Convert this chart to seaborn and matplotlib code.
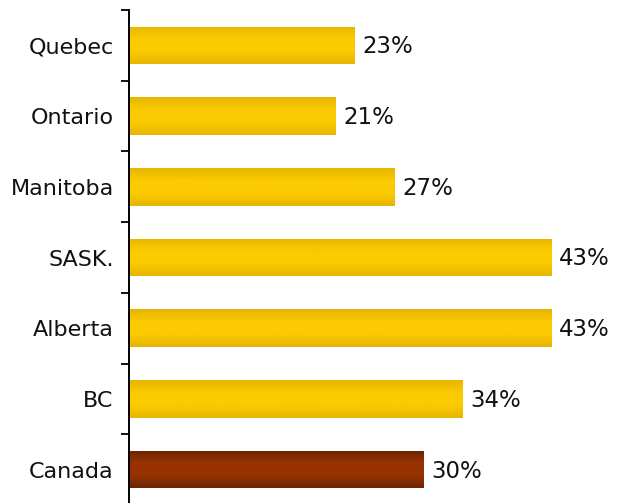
import numpy as np
import matplotlib
matplotlib.use("Agg")
import matplotlib.pyplot as plt
from matplotlib.colors import LinearSegmentedColormap
from matplotlib.ticker import FixedLocator
import pandas as pd
import seaborn as sns

# Share of respondents by province
regions = ["Quebec", "Ontario", "Manitoba", "SASK.", "Alberta", "BC", "Canada"]
shares = [23, 21, 27, 43, 43, 34, 30]

gold_edge, gold_mid = "#E6B600", "#FCCA00"
rust_edge, rust_mid = "#6C2500", "#973200"
bar_colors = [gold_mid] * 6 + [rust_mid]
bar_ramps = [(gold_edge, gold_mid)] * 6 + [(rust_edge, rust_mid)]

sns.set_style("white")
plt.rcParams["font.family"] = ["DejaVu Sans"]

df = pd.DataFrame({"region": regions, "share": shares})

fig = plt.figure(figsize=(6.23, 5.03), dpi=100)
ax = fig.add_axes([129 / 623, -0.004, (620 - 129) / 623, 495 / 503])

sns.barplot(data=df, x="share", y="region", hue="region", palette=bar_colors,
            order=regions, hue_order=regions, legend=False, width=0.53,
            orient="h", ax=ax, saturation=1, linewidth=0)

# vertical shading on each bar: darker rims, bright centre
grad = np.linspace(0, 1, 64).reshape(-1, 1)
for patch, (edge, mid) in zip(ax.patches, bar_ramps):
    cmap = LinearSegmentedColormap.from_list("bar", [edge, mid, mid, edge])
    x0, y0 = patch.get_x(), patch.get_y()
    w, h = patch.get_width(), patch.get_height()
    im = ax.imshow(grad, extent=[x0, x0 + w, y0 + h, y0], aspect="auto",
                   cmap=cmap, interpolation="bicubic", zorder=patch.get_zorder() + 0.1)
    im.set_clip_path(patch)

for i, v in enumerate(shares):
    ax.text(v + 0.8, i + 0.02, f"{v}%", va="center", ha="left", fontsize=16.5, color="#111111")

ax.set_xlim(0, 50)
ax.set_ylim(6.5, -0.5)
ax.set_xlabel("")
ax.set_ylabel("")
ax.set_xticks([])

ax.yaxis.set_minor_locator(FixedLocator(np.arange(-0.5, 7, 1)))
ax.tick_params(axis="y", which="major", length=0, pad=11, labelsize=16, labelcolor="#111111")
ax.tick_params(axis="y", which="minor", length=6, width=1.3, color="black", direction="out", left=True)

for s in ["top", "right", "bottom"]:
    ax.spines[s].set_visible(False)
ax.spines["left"].set_color("black")
ax.spines["left"].set_linewidth(1.4)

fig.savefig("out.png", dpi=100)
